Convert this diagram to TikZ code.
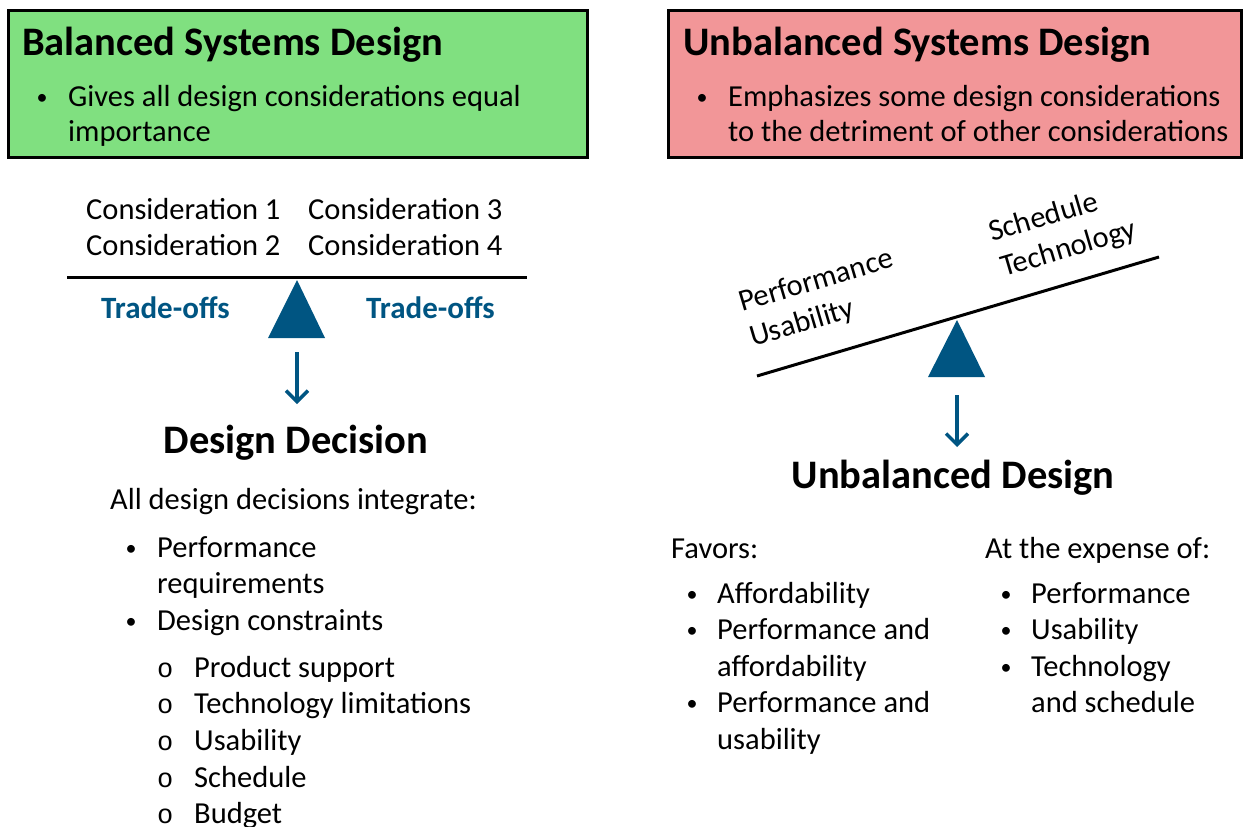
\documentclass[tikz,border=0pt]{standalone}
\usepackage{fontspec}
\setmainfont{Carlito}
\newfontfamily\ringfont{Liberation Mono}
\usetikzlibrary{arrows.meta}
\definecolor{okgreen}{RGB}{128,224,128}
\definecolor{badpink}{RGB}{242,150,152}
\definecolor{pivotblue}{RGB}{0,85,130}
\tikzset{
  body/.style={anchor=base west, inner sep=0pt, font=\fontsize{30.5}{36}\selectfont},
  head/.style={anchor=base west, inner sep=0pt, font=\fontsize{40.5}{46}\selectfont\bfseries},
  trade/.style={anchor=base west, inner sep=0pt, text=pivotblue, font=\fontsize{31}{36}\selectfont\bfseries},
  dot/.style={anchor=base, inner sep=0pt, font=\fontsize{22}{36}\selectfont},
  ring/.style={anchor=base west, inner sep=0pt, font=\fontsize{27}{36}\ringfont},
  beam/.style={line width=3pt},
  drop/.style={-{Straight Barb[length=11pt,width=22pt]}, line width=3.5pt, pivotblue}
}
\begin{document}
\begin{tikzpicture}[x=1pt,y=1pt]
        \useasboundingbox (0,0) rectangle (1243,-827);
        % header boxes
        \draw[line width=3pt, fill=okgreen] (8,-10) rectangle (587,-157);
        \draw[line width=3pt, fill=badpink] (668,-10) rectangle (1241,-157);
        \node[head] (lhead) at (22,-55) {Balanced Systems Design};
        \node[dot] (lb1) at (42,-104) {•};
        \node[body] (lt1) at (68,-106) {Gives all design considerations equal};
        \node[body] (lt2) at (68,-141) {importance};
        \node[head] (rhead) at (683,-55) {Unbalanced Systems Design};
        \node[dot] (rb1) at (702,-104) {•};
        \node[body] (rt1) at (728,-106) {Emphasizes some design considerations};
        \node[body] (rt2) at (728,-141) {to the detriment of other considerations};
        % balanced scale
        \node[body] (c1) at (86,-219) {Consideration 1};
        \node[body] (c2) at (86,-255) {Consideration 2};
        \node[body] (c3) at (308,-219) {Consideration 3};
        \node[body] (c4) at (308,-255) {Consideration 4};
        \coordinate (lbl) at (67,-277);
        \coordinate (lbr) at (527,-277);
        \draw[beam] (lbl) -- (lbr);
        \coordinate (ltop) at (297,-280);
        \coordinate (lleft) at (268,-338);
        \coordinate (lright) at (325,-338);
        \fill[pivotblue] (ltop) -- (lleft) -- (lright) -- cycle;
        \node[trade] (to1) at (101,-318) {Trade-offs};
        \node[trade] (to2) at (366,-318) {Trade-offs};
        \coordinate (la0) at (297,-352);
        \coordinate (la1) at (297,-404);
        \draw[drop] (la0) -- (la1);
        \node[head, anchor=base] (ldec) at (296,-453) {Design Decision};
        \node[body] (lint) at (110,-509) {All design decisions integrate:};
        \node[dot] (ld1) at (131,-555) {•};
        \node[body] (lp1) at (157,-557) {Performance};
        \node[body] (lp2) at (157,-593) {requirements};
        \node[dot] (ld2) at (131,-628) {•};
        \node[body] (lp3) at (157,-630) {Design constraints};
        \node[ring] (lo1) at (157,-677) {o};
        \node[body] (ls1) at (194,-677) {Product support};
        \node[ring] (lo2) at (157,-713) {o};
        \node[body] (ls2) at (194,-713) {Technology limitations};
        \node[ring] (lo3) at (157,-750) {o};
        \node[body] (ls3) at (194,-750) {Usability};
        \node[ring] (lo4) at (157,-787) {o};
        \node[body] (ls4) at (194,-787) {Schedule};
        \node[ring] (lo5) at (157,-823) {o};
        \node[body] (ls5) at (194,-823) {Budget};
        % unbalanced scale
        \coordinate (rbl) at (757,-376);
        \coordinate (rbr) at (1159,-257);
        \draw[beam] (rbl) -- (rbr);
        \node[body, rotate=16.5] (w1) at (742,-312) {Performance};
        \node[body, rotate=16.5] (w2) at (753,-347) {Usability};
        \node[body, rotate=16.5] (w3) at (992,-242) {Schedule};
        \node[body, rotate=16.5] (w4) at (1004,-277) {Technology};
        \coordinate (rtop) at (957,-320);
        \coordinate (rleft) at (928,-377);
        \coordinate (rright) at (985,-377);
        \fill[pivotblue] (rtop) -- (rleft) -- (rright) -- cycle;
        \coordinate (ra0) at (957,-395);
        \coordinate (ra1) at (957,-447);
        \draw[drop] (ra0) -- (ra1);
        \node[head, anchor=base] (rdec) at (953,-488) {Unbalanced Design};
        \node[body] (fav) at (671,-558) {Favors:};
        \node[dot] (fd1) at (692,-601) {•};
        \node[body] (f1) at (717,-603) {Affordability};
        \node[dot] (fd2) at (692,-637) {•};
        \node[body] (f2) at (717,-639) {Performance and};
        \node[body] (f3) at (717,-676) {affordability};
        \node[dot] (fd3) at (692,-710) {•};
        \node[body] (f4) at (717,-712) {Performance and};
        \node[body] (f5) at (717,-749) {usability};
        \node[body] (exp) at (985,-558) {At the expense of:};
        \node[dot] (ed1) at (1006,-601) {•};
        \node[body] (e1) at (1031,-603) {Performance};
        \node[dot] (ed2) at (1006,-637) {•};
        \node[body] (e2) at (1031,-639) {Usability};
        \node[dot] (ed3) at (1006,-674) {•};
        \node[body] (e3) at (1031,-676) {Technology};
        \node[body] (e4) at (1031,-712) {and schedule};
\end{tikzpicture}
\end{document}
